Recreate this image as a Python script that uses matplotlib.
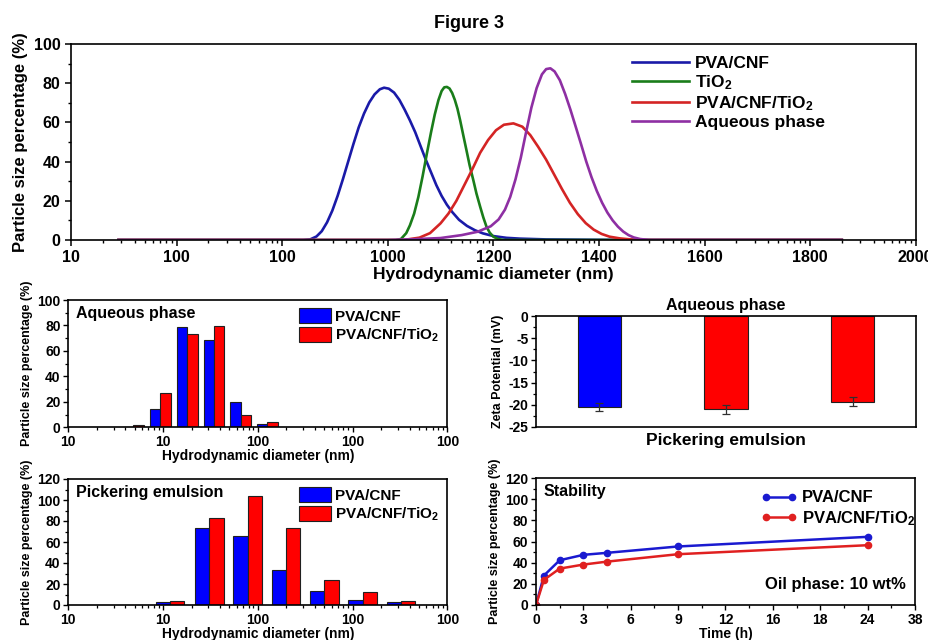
import numpy as np
import matplotlib
matplotlib.use("Agg")
import matplotlib.pyplot as plt
from matplotlib.ticker import FixedLocator, MultipleLocator, NullFormatter, LogLocator
from matplotlib.patches import Patch

plt.rcParams['font.family'] = ['Liberation Sans', 'DejaVu Sans']
plt.rcParams['font.weight'] = 'bold'
plt.rcParams['axes.labelweight'] = 'bold'
plt.rcParams['mathtext.fontset'] = 'custom'
plt.rcParams['mathtext.rm'] = 'Liberation Sans:bold'
plt.rcParams['mathtext.bf'] = 'Liberation Sans:bold'
plt.rcParams['mathtext.default'] = 'rm'
plt.rcParams['axes.linewidth'] = 1.2
plt.rcParams['axes.unicode_minus'] = False

# ---------------- data: top panel (size distributions) ----------------
top_tick_values = [400, 600, 800, 1000, 1200, 1400, 1600, 1800, 2000]
top_tick_labels = ['10', '100', '100', '1000', '1200', '1400', '1600', '1800', '2000']

pva_cnf_x = [490, 840, 853, 865, 875, 885, 895, 905, 915, 925, 935, 945, 955, 965, 975, 985, 993,
             1002, 1012, 1022, 1032, 1042, 1052, 1062, 1072, 1082, 1092, 1102, 1112, 1122, 1135,
             1150, 1165, 1180, 1200, 1225, 1250, 1300, 1400, 1500, 1860]
pva_cnf_y = [0, 0, 0.3, 1.8, 4.5, 9.0, 15.0, 22.5, 31.0, 40.0, 49.0, 57.5, 64.5, 70.2, 74.3, 76.9, 77.7,
             77.2, 75.2, 71.5, 66.5, 61.0, 55.0, 48.0, 41.0, 34.5, 28.0, 22.5, 18.0, 14.3, 10.3,
             7.2, 5.0, 3.4, 2.0, 1.1, 0.7, 0.3, 0.1, 0, 0]

tio2_x = [490, 1015, 1025, 1035, 1042, 1050, 1058, 1066, 1074, 1082, 1089, 1096, 1102, 1107, 1112,
          1117, 1122, 1127, 1132, 1137, 1143, 1149, 1155, 1162, 1168, 1175, 1181, 1187, 1193,
          1200, 1208, 1218, 1860]
tio2_y = [0, 0, 0.5, 3.5, 7.5, 13.5, 22.0, 32.5, 44.0, 55.0, 64.0, 71.4, 76.0, 77.9, 78.1,
          77.3, 75.0, 71.5, 67.0, 61.2, 53.5, 45.9, 38.2, 30.6, 23.7, 17.0, 11.5, 6.8, 3.8,
          1.7, 0.6, 0, 0]

pva_cnf_tio2_x = [490, 1030, 1060, 1080, 1100, 1115, 1130, 1145, 1160, 1175, 1190, 1205, 1220,
                  1238, 1255, 1270, 1285, 1300, 1315, 1330, 1345, 1360, 1375, 1390, 1405, 1420,
                  1440, 1460, 1480, 1860]
pva_cnf_tio2_y = [0, 0, 1.2, 3.5, 8.5, 13.5, 20.0, 28.0, 36.0, 44.5, 51.0, 56.0, 58.8,
                  59.5, 57.8, 53.5, 47.5, 41.0, 33.5, 26.0, 19.0, 13.2, 8.6, 5.3, 3.1, 1.7,
                  0.8, 0.3, 0, 0]

aqueous_x = [490, 1000, 1050, 1100, 1140, 1170, 1195, 1210, 1222, 1232, 1242, 1252, 1262, 1272,
             1282, 1292, 1300, 1308, 1316, 1326, 1336, 1346, 1356, 1366, 1376, 1386, 1396, 1406,
             1416, 1426, 1436, 1446, 1456, 1466, 1478, 1495, 1860]
aqueous_y = [0, 0, 0.4, 1.0, 2.5, 4.2, 7.0, 10.5, 15.5, 22.0, 31.0, 42.0, 55.0, 67.5,
             77.5, 84.5, 87.2, 87.6, 86.0, 81.5, 74.5, 66.5, 57.8, 49.0, 40.0, 32.0, 25.0, 19.0,
             14.0, 10.0, 6.8, 4.3, 2.5, 1.3, 0.5, 0, 0]

# ---------------- data: aqueous-phase bar histogram ----------------
aq_centers = [48.5, 93.5, 180, 345, 661, 1259]
aq_pva_cnf = [0.5, 14, 78.5, 68.6, 19.6, 2.9]
aq_pva_cnf_tio2 = [2.1, 26.7, 73.6, 79.8, 9.4, 4.5]

# ---------------- data: pickering emulsion bar histogram ----------------
pe_centers = [118, 308, 782, 1986, 5035, 12790, 32430]
pe_pva_cnf = [3.2, 73, 65.5, 33.5, 13.5, 4.3, 2.5]
pe_pva_cnf_tio2 = [4.1, 83, 104, 73, 24, 12.3, 3.7]

bar_tick_values = [10, 100, 1000, 10000, 100000]
bar_tick_labels = ['10', '10', '100', '100', '100']

# ---------------- data: zeta potential ----------------
zeta_values = [-20.5, -21.0, -19.3]
zeta_errors = [0.95, 1.05, 1.0]
zeta_colors = ['#0000ff', '#ff0000', '#ff0000']

# ---------------- data: stability ----------------
time_h = [0, 0.5, 1.5, 3, 4.5, 9, 24]
stab_pva_cnf = [0, 27.8, 42.3, 47.4, 49.3, 55.3, 64.4]
stab_pva_cnf_tio2 = [0, 23.7, 34.4, 38.2, 41.0, 48.0, 56.5]
time_ticks = [0, 3, 6, 9, 12, 16, 18, 24, 38]

# ======================================================================
W, H = 929, 640
fig = plt.figure(figsize=(W / 100, H / 100), dpi=100)

def frac(l, t, r, b):
    return [l / W, 1 - b / H, (r - l) / W, (b - t) / H]

C_BLUE = '#1a1aa8'
C_GREEN = '#1a7d1a'
C_RED = '#d42424'
C_PURPLE = '#8e2fa3'

fig.text(0.505, 0.963, 'Figure 3', ha='center', va='center', fontsize=13, fontweight='bold')

# ---------------- top panel ----------------
ax = fig.add_axes(frac(71, 44, 915.7, 240))
lw = 1.9
ax.plot(pva_cnf_x, pva_cnf_y, color=C_BLUE, lw=lw, label='PVA/CNF', solid_joinstyle='round')
ax.plot(tio2_x, tio2_y, color=C_GREEN, lw=lw, label='TiO$_2$', solid_joinstyle='round')
ax.plot(pva_cnf_tio2_x, pva_cnf_tio2_y, color=C_RED, lw=lw, label='PVA/CNF/TiO$_2$',
        solid_joinstyle='round')
ax.plot(aqueous_x, aqueous_y, color=C_PURPLE, lw=lw, label='Aqueous phase',
        solid_joinstyle='round')
ax.set_xlim(400, 2000)
ax.set_ylim(0, 100)
ax.set_xticks(top_tick_values)
ax.set_xticklabels(top_tick_labels)
minor = []
for i in range(len(top_tick_values) - 1):
    for k in range(2, 10):
        minor.append(top_tick_values[i] + 200 * np.log10(k))
ax.xaxis.set_minor_locator(FixedLocator(minor))
ax.yaxis.set_major_locator(MultipleLocator(20))
ax.yaxis.set_minor_locator(MultipleLocator(10))
ax.tick_params(axis='both', which='major', labelsize=11.5, length=4, width=1.1)
ax.tick_params(axis='both', which='minor', length=2.5, width=1.0)
ax.tick_params(axis='x', direction='out')
ax.set_xlabel('Hydrodynamic diameter (nm)', fontsize=12.5, labelpad=1)
ax.set_ylabel('Particle size percentage (%)', fontsize=12, labelpad=4)
ax.legend(loc='upper left', bbox_to_anchor=(0.65, 1.0), frameon=False, fontsize=12.5,
          handlelength=3.3, handletextpad=0.3, labelspacing=0.12, borderaxespad=0.3)

# ---------------- bar panels helper ----------------
def bar_panel(rect, centers, v1, v2, bw_dec, ymax, label):
    a = fig.add_axes(rect)
    c = np.array(centers, dtype=float)
    f = 10 ** bw_dec
    a.bar(c / f, v1, width=c - c / f, align='edge', color='#0000ff', edgecolor='#202020', lw=0.8)
    a.bar(c, v2, width=c * f - c, align='edge', color='#ff0000', edgecolor='#202020', lw=0.8)
    a.set_xscale('log')
    a.set_xlim(10, 100000)
    a.set_ylim(0, ymax)
    a.set_xticks(bar_tick_values)
    a.set_xticklabels(bar_tick_labels)
    a.xaxis.set_minor_locator(LogLocator(base=10, subs=np.arange(2, 10)))
    a.xaxis.set_minor_formatter(NullFormatter())
    a.yaxis.set_major_locator(MultipleLocator(20))
    a.yaxis.set_minor_locator(MultipleLocator(10))
    a.tick_params(axis='both', which='major', labelsize=10, length=3.5, width=1.0, pad=2)
    a.tick_params(axis='both', which='minor', length=2, width=0.9)
    a.set_xlabel('Hydrodynamic diameter (nm)', fontsize=10, labelpad=0)
    a.set_ylabel('Particle size percentage (%)', fontsize=9, labelpad=3)
    a.text(0.02, 0.955, label, transform=a.transAxes, ha='left', va='top', fontsize=11.5,
           fontweight='bold')
    handles = [Patch(facecolor='#0000ff', edgecolor='#202020', lw=0.8),
               Patch(facecolor='#ff0000', edgecolor='#202020', lw=0.8)]
    a.legend(handles, ['PVA/CNF', 'PVA/CNF/TiO$_2$'], loc='upper right', frameon=False,
             fontsize=11, handlelength=2.1, handleheight=1.1, handletextpad=0.25,
             labelspacing=0.2, borderaxespad=0.15)
    return a

bar_panel(frac(68.3, 300, 447.3, 427.3), aq_centers, aq_pva_cnf, aq_pva_cnf_tio2,
          0.109, 100, 'Aqueous phase')
bar_panel(frac(68.3, 479, 447.3, 605), pe_centers, pe_pva_cnf, pe_pva_cnf_tio2,
          0.151, 120, 'Pickering emulsion')

# ---------------- zeta potential ----------------
az = fig.add_axes(frac(536, 316, 916, 427))
xz = np.arange(len(zeta_values))
az.bar(xz, zeta_values, width=0.34, color=zeta_colors, edgecolor='#202020', lw=0.8,
       yerr=zeta_errors, error_kw=dict(ecolor='#303030', elinewidth=0.9, capsize=3, capthick=0.9))
az.set_xlim(-0.5, 2.5)
az.set_ylim(-25, 0)
az.set_xticks([])
az.yaxis.set_major_locator(MultipleLocator(5))
az.yaxis.set_minor_locator(MultipleLocator(2.5))
az.tick_params(axis='y', which='major', labelsize=10, length=3.5, width=1.0, pad=2)
az.tick_params(axis='y', which='minor', length=2, width=0.9)
az.set_ylabel('Zeta Potential (mV)', fontsize=9, labelpad=3)
az.set_title('Aqueous phase', fontsize=11.5, fontweight='bold', pad=4)
az.set_xlabel('Pickering emulsion', fontsize=12.5, labelpad=4)

# ---------------- stability ----------------
ast = fig.add_axes(frac(536, 478, 915, 605))
pos = np.arange(len(time_ticks), dtype=float)
fwd = lambda x: np.interp(x, time_ticks, pos)
inv = lambda p: np.interp(p, pos, time_ticks)
ast.set_xscale('function', functions=(fwd, inv))
ast.plot(time_h, stab_pva_cnf, color='#1a1ad0', lw=1.8, marker='o', ms=4.5, label='PVA/CNF')
ast.plot(time_h, stab_pva_cnf_tio2, color='#e02020', lw=1.8, marker='o', ms=4.5,
         label='PVA/CNF/TiO$_2$')
ast.set_xlim(0, 38)
ast.set_ylim(0, 120)
ast.set_xticks(time_ticks)
ast.set_xticklabels([str(t) for t in time_ticks])
mids = [(time_ticks[i] + time_ticks[i + 1]) / 2 for i in range(len(time_ticks) - 1)]
ast.xaxis.set_minor_locator(FixedLocator(mids))
ast.xaxis.set_minor_formatter(NullFormatter())
ast.yaxis.set_major_locator(MultipleLocator(20))
ast.yaxis.set_minor_locator(MultipleLocator(10))
ast.tick_params(axis='both', which='major', labelsize=10, length=3.5, width=1.0, pad=2)
ast.tick_params(axis='both', which='minor', length=2, width=0.9)
ast.set_xlabel('Time (h)', fontsize=10, labelpad=0)
ast.set_ylabel('Particle size percentage (%)', fontsize=9, labelpad=3)
ast.text(0.02, 0.955, 'Stability', transform=ast.transAxes, ha='left', va='top', fontsize=11.5,
         fontweight='bold')
ast.text(0.975, 0.1, 'Oil phase: 10 wt%', transform=ast.transAxes, ha='right', va='bottom',
         fontsize=12, fontweight='bold')
ast.legend(loc='upper right', bbox_to_anchor=(1.035, 1.0), frameon=False, fontsize=12,
           handlelength=2.2, numpoints=2, handletextpad=0.3, labelspacing=0.2,
           borderaxespad=0.35)

fig.savefig('out.png', dpi=100)
